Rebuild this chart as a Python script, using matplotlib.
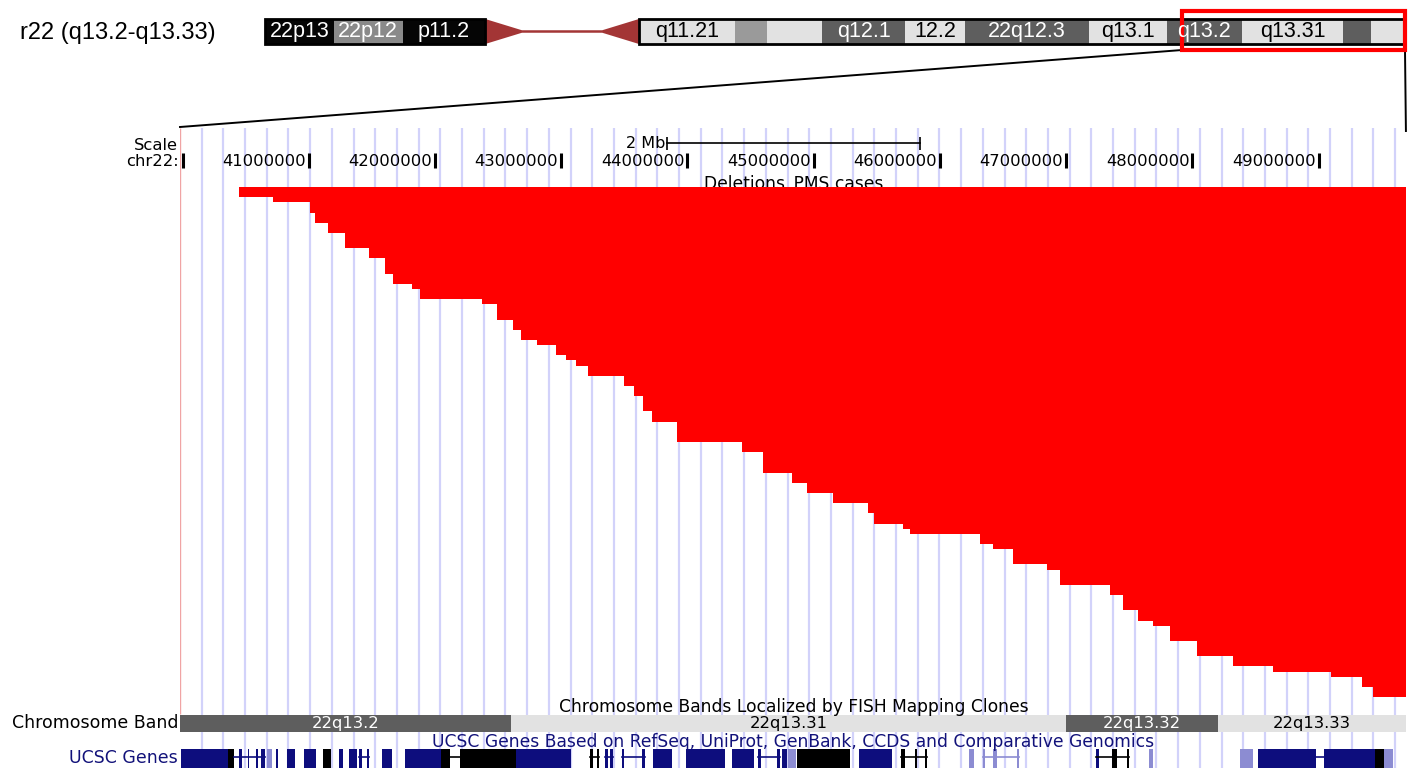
import numpy as np
import matplotlib.pyplot as plt
from matplotlib.patches import Rectangle, Polygon

W, H = 1413, 768

# browser window, chr22 (hg18), in Mb
view_start, view_end = 39.98, 49.70
chrom_len = 49.691432

# PMS deletions: breakpoint (Mb) and number of cases sharing it; all run to qter
del_start = [40.45, 40.72, 41.01, 41.05, 41.15, 41.29, 41.48, 41.60, 41.67, 41.82,
             41.88, 42.37, 42.49, 42.62, 42.68, 42.81, 42.96, 43.04, 43.12, 43.21,
             43.50, 43.58, 43.65, 43.72, 43.92, 44.43, 44.60, 44.83, 44.95, 45.15,
             45.43, 45.48, 45.71, 45.76, 46.32, 46.42, 46.58, 46.85, 46.95, 47.35,
             47.45, 47.57, 47.69, 47.82, 48.04, 48.32, 48.64, 49.10, 49.34, 49.43]
del_cases = [2, 1, 2, 2, 2, 3, 2, 3, 2, 1,
             2, 1, 3, 2, 2, 1, 2, 1, 1, 2,
             2, 2, 3, 2, 4, 2, 4, 2, 2, 2,
             2, 2, 1, 1, 2, 1, 3, 1, 3, 2,
             3, 2, 1, 3, 3, 2, 1, 1, 2, 2]

# ideogram of chr22
ideo_start = [0.0, 3.0, 6.0, 9.6, 12.2, 16.3, 20.5, 21.9, 24.3, 27.9, 30.5, 35.9, 39.3, 42.6, 47.0, 48.2]
ideo_stain = ['gvar', 'stalk', 'gvar', 'acen', 'acen', 'gneg', 'gpos25', 'gneg',
              'gpos50', 'gneg', 'gpos50', 'gneg', 'gpos50', 'gneg', 'gpos50', 'gneg']
ideo_label = ['22p13', '22p12', 'p11.2', '', '', 'q11.21', '', '', 'q12.1', '12.2',
              '22q12.3', 'q13.1', 'q13.2', 'q13.31', '', '']

# FISH-mapped band track
fish_name = ['22q13.2', '22q13.31', '22q13.32', '22q13.33']
fish_start = [39.3, 42.6, 47.0, 48.2]
fish_end = [42.6, 47.0, 48.2, 49.69]
fish_stain = ['gpos50', 'gneg', 'gpos50', 'gneg']

# scale ruler
tick_mb = [40, 41, 42, 43, 44, 45, 46, 47, 48, 49]
tick_label = ['', '41000000', '42000000', '43000000', '44000000', '45000000',
              '46000000', '47000000', '48000000', '49000000']
scalebar_start, scalebar_len = 43.84, 2.0

# UCSC genes (dense): blocks and intron lines, shade 0 navy / 1 black / 2 light
gene_start = [39.99, 40.36, 40.45, 40.52, 40.58, 40.62, 40.67, 40.74, 40.83, 40.96,
              41.11, 41.24, 41.32, 41.40, 41.46, 41.58, 41.76, 42.05, 42.20, 42.35,
              42.64, 42.82, 43.23, 43.28, 43.35, 43.39, 43.48, 43.64, 43.73, 43.99,
              44.10, 44.35, 44.56, 44.71, 44.75, 44.80, 44.87, 44.97, 45.36, 45.69,
              45.80, 45.88, 46.23, 46.34, 46.42, 46.61, 47.24, 47.36, 47.48, 47.66,
              48.38, 48.52, 48.76, 49.04, 49.09, 49.31, 49.45, 49.52]
gene_end = [40.36, 40.41, 40.47, 40.53, 40.60, 40.65, 40.71, 40.76, 40.89, 41.06,
            41.18, 41.27, 41.38, 41.42, 41.48, 41.66, 42.05, 42.12, 42.35, 42.64,
            42.82, 43.08, 43.25, 43.30, 43.37, 43.41, 43.50, 43.66, 43.88, 44.10,
            44.30, 44.53, 44.58, 44.73, 44.79, 44.86, 44.97, 45.29, 45.62, 45.72,
            45.82, 45.90, 46.27, 46.36, 46.45, 46.63, 47.26, 47.40, 47.50, 47.69,
            48.48, 48.76, 48.98, 49.09, 49.31, 49.45, 49.52, 49.59]
gene_shade = [0, 1, 0, 0, 0, 0, 2, 0, 0, 0,
              1, 0, 0, 0, 0, 0, 0, 1, 1, 1,
              0, 0, 1, 1, 0, 0, 0, 0, 0, 0,
              0, 0, 0, 0, 0, 2, 1, 1, 0, 1,
              1, 1, 2, 2, 2, 2, 0, 1, 1, 2,
              2, 0, 0, 0, 0, 0, 1, 2]
intron_start = [40.41, 41.40, 42.12, 43.23, 43.35, 43.48, 44.56, 45.69, 46.34, 47.24, 48.98]
intron_end = [40.65, 41.48, 42.20, 43.30, 43.41, 43.66, 44.73, 45.90, 46.63, 47.50, 49.04]
intron_shade = [0, 0, 1, 1, 0, 0, 0, 1, 2, 1, 0]

stain_color = {'gvar': '#050505', 'stalk': '#8a8a8a', 'gneg': '#e2e2e2',
               'gpos25': '#9a9a9a', 'gpos50': '#5e5e5e', 'acen': '#a33535'}
gene_color = ['#0d0d7d', '#000000', '#8c8cd2']
navy = '#12127a'

plt.rcParams['font.family'] = ['DejaVu Sans']

fig = plt.figure(figsize=(W / 100, H / 100), dpi=100)
fig.patch.set_facecolor('white')


def px_axes(x0, y0, x1, y1, z):
    a = fig.add_axes([x0 / W, 1 - y1 / H, (x1 - x0) / W, (y1 - y0) / H])
    a.set_zorder(z)
    a.patch.set_alpha(0)
    a.axis('off')
    return a


# ---- browser background: guides, ruler, band + gene tracks (y in pixels)
x_left, x_right = 180, 1407
ax = px_axes(x_left, 0, x_right, H, 1)
ax.set_xlim(view_start, view_end)
ax.set_ylim(H, 0)

guides = view_start + np.arange(1, 57) * 0.1719
ax.vlines(guides, 128, H, color='#d2d2fa', lw=1.6, zorder=0)
ax.vlines([view_start], 128, 714, color='#f0a4a4', lw=1.0, zorder=0)

ax.vlines(tick_mb, 153, 168, color='black', lw=2.2)
for t, lab in zip(tick_mb, tick_label):
    ax.annotate(lab, (t, 161), xytext=(-3, 0), textcoords='offset pixels',
                ha='right', va='center', fontsize=11.8)
ax.plot([scalebar_start, scalebar_start + scalebar_len], [143, 143], color='black', lw=1.2)
ax.vlines([scalebar_start, scalebar_start + scalebar_len], 137, 150, color='black', lw=1.2)
ax.annotate('2 Mb', (scalebar_start, 143), xytext=(-2, 0), textcoords='offset pixels',
            ha='right', va='center', fontsize=11.5)

mid = (view_start + view_end) / 2
ax.text(mid, 183.5, 'Deletions_PMS cases', ha='center', va='center', fontsize=12.3)
ax.text(mid, 707, 'Chromosome Bands Localized by FISH Mapping Clones',
        ha='center', va='center', fontsize=12.3)
ax.text(mid, 742, 'UCSC Genes Based on RefSeq, UniProt, GenBank, CCDS and Comparative Genomics',
        ha='center', va='center', fontsize=12.3, color=navy)

for s, e, name, st in zip(fish_start, fish_end, fish_name, fish_stain):
    s0, e0 = max(s, view_start), min(e, chrom_len)
    ax.add_patch(Rectangle((s0, 715), e0 - s0, 17, color=stain_color[st], lw=0))
    ax.text((s0 + e0) / 2, 723.5, name, ha='center', va='center', fontsize=11.8,
            color='white' if st != 'gneg' else 'black')

for s, e, sh in zip(intron_start, intron_end, intron_shade):
    ax.plot([s, e], [757, 757], color=gene_color[sh], lw=1.2)
for s, e, sh in zip(gene_start, gene_end, gene_shade):
    ax.add_patch(Rectangle((s, 749), e - s, 20, color=gene_color[sh], lw=0))

# ---- deletions track, one row per case, drawn as a single staircase
ax_del = px_axes(x_left, 187, x_right, 697, 2)
ax_del.set_xlim(view_start, view_end)
starts = np.repeat(del_start, del_cases)
n = len(starts)
ax_del.set_ylim(n, 0)
rows = np.arange(n + 1)
ax_del.fill_betweenx(rows, np.append(starts, starts[-1]), chrom_len, step='post',
                     color='#ff0000', lw=0)

# ---- top layer: labels left of the tracks and zoom lines
top = px_axes(0, 0, W, H, 3)
top.set_xlim(0, W)
top.set_ylim(H, 0)
top.text(20, 33, 'r22 (q13.2-q13.33)', family='Liberation Sans', fontsize=17,
         ha='left', va='center')
top.text(178, 145, 'Scale', ha='right', va='center', fontsize=11.8)
top.text(179, 161, 'chr22:', ha='right', va='center', fontsize=11.8)
top.text(178, 723, 'Chromosome Band', ha='right', va='center', fontsize=12.5)
top.text(178, 758, 'UCSC Genes', ha='right', va='center', fontsize=12.5, color=navy)

# ---- ideogram
ideo = px_axes(265, 19, 1405, 44, 4)
ideo.set_xlim(0, chrom_len)
ideo.set_ylim(0, 1)
ideo_end = ideo_start[1:] + [chrom_len]
cen = [i for i, st in enumerate(ideo_stain) if st == 'acen']
for s, e, st, lab in zip(ideo_start, ideo_end, ideo_stain, ideo_label):
    if st == 'acen':
        continue
    ideo.add_patch(Rectangle((s, 0), e - s, 1, color=stain_color[st], lw=0))
    if lab:
        ideo.text((s + e) / 2, 0.5, lab, family='Liberation Sans', fontsize=15.5,
                  ha='center', va='center', color='black' if st == 'gneg' else 'white',
                  clip_on=True)
c0, cm, c1 = ideo_start[cen[0]], ideo_start[cen[1]], ideo_end[cen[1]]
ideo.add_patch(Polygon([(c0, 1), (c0 + 1.6, 0.55), (c1 - 1.6, 0.55), (c1, 1),
                        (c1, 0), (c1 - 1.6, 0.45), (c0 + 1.6, 0.45), (c0, 0)],
                       closed=True, color=stain_color['acen'], lw=0))
for s, e in [(0, c0), (c1, chrom_len)]:
    ideo.add_patch(Rectangle((s, 0), e - s, 1, fill=False, ec='black', lw=2, clip_on=False))
ideo.add_patch(Rectangle((view_start, -0.24), view_end - view_start, 1.56, fill=False,
                         ec='#ff0000', lw=3, clip_on=False))

# zoom lines from the red box down to the browser window
to_top = top.transData.inverted()
for xm, yb in [(view_start, 127), (chrom_len, 131)]:
    p = to_top.transform(ideo.transData.transform((xm, -0.24)))
    q = to_top.transform(ax.transData.transform((xm, yb)))
    top.plot([p[0], q[0]], [p[1], q[1]], color='black', lw=1.4)

fig.savefig('out.png', dpi=100)
